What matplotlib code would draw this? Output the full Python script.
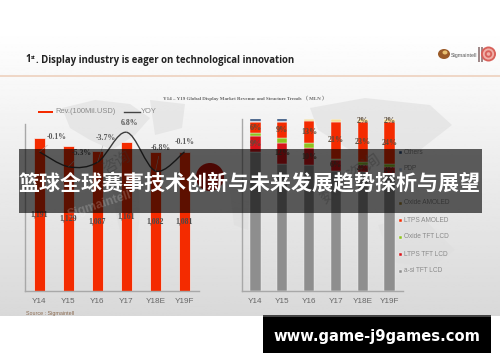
import numpy as np
import matplotlib
matplotlib.use('Agg')
import matplotlib.pyplot as plt
from matplotlib.path import Path
from matplotlib.patches import PathPatch, Polygon, Circle, Rectangle, Ellipse

years = ['Y14', 'Y15', 'Y16', 'Y17', 'Y18E', 'Y19F']

# left chart
revenue = [1191, 1129, 1087, 1161, 1082, 1081]
yoy = [-0.1, -5.3, -3.7, 6.8, -6.8, -0.1]

# right chart, share of revenue in percent
a_si_tft = [81, 74, 73, 70, 69, 68]
ltps_tft = [9, 12, 10, 6, 4, 4]
oxide_tft = [2, 3, 3, 1, 2, 2]
ltps_amoled = [6, 9, 13, 21, 23, 24]
oxide_amoled = [0, 0, 1, 2, 2, 2]
pdp = [1, 1, 0, 0, 0, 0]
others = [1, 1, 0, 0, 0, 0]

W, H = 500, 362
plt.rcParams['font.family'] = ['Liberation Sans', 'DejaVu Sans']
fig = plt.figure(figsize=(W / 100, H / 100), dpi=100, facecolor='white')


def px_axes(x0, y0, x1, y1, z):
    # axes from pixel box, y counted from the top
    ax = fig.add_axes([x0 / W, 1 - y1 / H, (x1 - x0) / W, (y1 - y0) / H], zorder=z)
    ax.patch.set_alpha(0)
    return ax


# background layer
bg = px_axes(0, 0, W, H, 0)
bg.set_xlim(0, W)
bg.set_ylim(H, 0)
bg.axis('off')
grad = np.linspace(1.0, 0.85, 256).reshape(-1, 1)
bg.imshow(grad, cmap='gray', vmin=0, vmax=1, extent=[0, W, 316.5, 30], aspect='auto')
bg.set_xlim(0, W)
bg.set_ylim(H, 0)

# rough world map behind the charts
blobs = [
    [(62, 108), (95, 100), (130, 104), (150, 118), (135, 135), (112, 150), (90, 140), (70, 128)],
    [(112, 170), (138, 172), (140, 215), (134, 265), (122, 240), (114, 205)],
    [(150, 100), (185, 104), (182, 128), (155, 135)],
    [(310, 108), (365, 98), (430, 105), (452, 125), (420, 150), (350, 150), (318, 130)],
    [(378, 225), (420, 215), (455, 250), (430, 268), (392, 262)],
    [(228, 175), (250, 180), (248, 230), (234, 225)],
]
for b in blobs:
    bg.add_patch(Polygon(b, closed=True, fc='#dedede', alpha=0.6, ec='none'))
bg.add_patch(Circle((210, 177), 14, fc='#c8140a', ec='none'))
bg.plot([0, W], [76, 76], color='#edcdb9', lw=1.1)

# page heading
title_font = dict(family='Open Sans', weight='bold', color='#222222', va='center')
bg.text(25, 60, '1', fontsize=6.95, **title_font)
bg.text(30.6, 57.5, 'st', fontsize=3.6, **title_font)
bg.text(35.5, 60, '. Display industry is eager on technological innovation', fontsize=6.95, **title_font)
bg.text(245, 98.5, 'Y14 – Y19 Global Display Market Revenue and Structure Trends （ MLN ）',
        fontsize=3.65, family=['Liberation Serif', 'Noto Sans CJK SC'], weight='bold', color='#666666',
        ha='center', va='center')

# logo
bg.add_patch(Ellipse((444, 54), 12, 10, fc='#9a5a28', ec='none'))
bg.add_patch(Ellipse((445, 52.5), 5, 4, fc='#e8c070', ec='none'))
bg.text(451, 55, 'Sigmaintell', fontsize=3.9, color='#555555', va='center')
bg.add_patch(Rectangle((477.5, 47), 2, 15, fc='#a08a8a', ec='none'))
bg.add_patch(Rectangle((480.5, 47), 2, 15, fc='#a08a8a', ec='none'))
for r, c in zip([7.5, 5.6, 3.7, 1.8], ['#d8605a', '#f0b0a8', '#d8605a', '#f0b0a8']):
    bg.add_patch(Circle((488.5, 54), r, fc=c, ec='none'))

# source line and legends
bg.text(26, 313, 'Source : Sigmaintell', fontsize=3.9, color='#8a6a50', va='center')
bg.add_patch(Rectangle((38, 110.5), 15, 2.5, fc='#f42b00', ec='none'))
bg.text(55.5, 111.5, 'Rev.(100Mil.USD)', fontsize=5.4, color='#8a8a8a', va='center')
bg.plot([124, 140], [111.5, 111.5], color='#444444', lw=1)
bg.text(141, 111.5, 'YOY', fontsize=5.4, color='#8a8a8a', va='center')

# left chart
ax = px_axes(25, 124, 199, 291, 2)
x = np.arange(len(years))
ax.bar(x, revenue, width=0.39, color='#f42b00', edgecolor='#f2f2f2', linewidth=0.5)
ax.set_xlim(-0.5, 5.5)
ax.set_ylim(0, 1300)
ax.set_yticks([])
ax.set_xticks(x, years)
ax.tick_params(axis='x', length=0, pad=5, labelsize=5.9, labelcolor='#666666')
for s in ['top', 'right']:
    ax.spines[s].set_visible(False)
for s in ['left', 'bottom']:
    ax.spines[s].set_color('#a8a8a8')
    ax.spines[s].set_linewidth(1)
for i, v in enumerate(revenue):
    ax.text(i, v / 2, f'{v:,}', fontsize=5.6, family='Liberation Serif', weight='bold',
            color='#4a4a4a', ha='center', va='center')

# YOY curve, smoothed through the yearly values
ax2 = ax.twinx()
ax2.patch.set_alpha(0)
ax2.set_ylim(-48.9, 9.7)
ax2.axis('off')
pts = np.column_stack([x, yoy])
verts = [pts[0]]
codes = [Path.MOVETO]
for i in range(len(pts) - 1):
    p0 = pts[max(i - 1, 0)]
    p1 = pts[i]
    p2 = pts[i + 1]
    p3 = pts[min(i + 2, len(pts) - 1)]
    verts += [p1 + (p2 - p0) / 6, p2 - (p3 - p1) / 6, p2]
    codes += [Path.CURVE4] * 3
ax2.add_patch(PathPatch(Path(verts, codes), fc='none', ec='#3c3c3c', lw=1))

# offsets of the YOY labels from their points, in pixels
yoy_off = [(17, 14.5), (13, 13.5), (8, 24.5), (3.5, 9.5), (5, 23), (0, 10)]
for i, v in enumerate(yoy):
    dx, dy = yoy_off[i]
    ax2.annotate(f'{v}%', (i, v), xytext=(dx * 0.72, dy * 0.72), textcoords='offset points',
                 fontsize=5.6, family='Liberation Serif', weight='bold', color='#5a5a5a',
                 ha='center', va='center',
                 arrowprops=dict(arrowstyle='-', color='#b0b0b0', lw=0.4, shrinkA=1, shrinkB=0))

# right chart
ax3 = px_axes(242, 119, 403, 291, 2)
series = [a_si_tft, ltps_tft, oxide_tft, ltps_amoled, oxide_amoled, pdp, others]
colors = ['#8e8e8e', '#d8141a', '#8fc31f', '#f42b00', '#f6dc90', '#a8bcd8', '#2a4a78']
bottom = np.zeros(len(years))
for vals, c in zip(series, colors):
    ax3.bar(x, vals, bottom=bottom, width=0.39, color=c, edgecolor='#f4f4f4', linewidth=0.3)
    bottom += np.array(vals)
ax3.set_xlim(-0.5, 5.5)
ax3.set_ylim(0, 100)
ax3.set_yticks([])
ax3.set_xticks(x, years)
ax3.tick_params(axis='x', length=0, pad=5, labelsize=5.9, labelcolor='#666666')
for s in ['top', 'right']:
    ax3.spines[s].set_visible(False)
for s in ['left', 'bottom']:
    ax3.spines[s].set_color('#a8a8a8')
    ax3.spines[s].set_linewidth(1)

# share labels sit in the middle of their segment
base = np.array(a_si_tft)
label_font = dict(fontsize=5.8, family='Liberation Serif', weight='bold', color='#5a4a3a',
                  ha='center', va='center')
for i in range(len(years)):
    ax3.text(i, base[i] + ltps_tft[i] / 2, f'{ltps_tft[i]}%', **label_font)
    lo = base[i] + ltps_tft[i] + oxide_tft[i]
    ax3.text(i, lo + ltps_amoled[i] / 2, f'{ltps_amoled[i]}%', **label_font)
    if i >= 4:
        ax3.text(i, lo + ltps_amoled[i] + oxide_amoled[i] / 2, f'{oxide_amoled[i]}%', **label_font)

# right legend, the row behind the banner is not readable and stays out
legend_names = ['Others', 'PDP', 'Oxide AMOLED', 'LTPS AMOLED', 'Oxide TFT LCD', 'LTPS TFT LCD', 'a-si TFT LCD']
legend_cols = ['#2a4a78', '#a8bcd8', '#a08030', '#f42b00', '#8fc31f', '#d8141a', '#8e8e8e']
legend_rows = [152, 169, 203, 220, 237, 254, 271]
for name, c, yy in zip(legend_names, legend_cols, legend_rows):
    bg.add_patch(Rectangle((398.5, yy - 1.5), 3, 3, fc=c, ec='#f4f4f4', lw=0.3, zorder=5))
    bg.text(403.5, yy, name, fontsize=4.7, color='#8a8a8a', va='center')

# overlay with watermarks, banner and site address
top = px_axes(0, 0, W, H, 5)
top.set_xlim(0, W)
top.set_ylim(H, 0)
top.axis('off')
top.text(100, 205, 'Sigmaintell', fontsize=9, weight='bold', color='white', alpha=0.2,
         rotation=18, ha='center', va='center')
wm_font = dict(family=['Noto Sans CJK SC', 'DejaVu Sans'], color='#333333', alpha=0.4,
               ha='center', va='center')
top.text(117, 163, '咨询', fontsize=11, rotation=30, **wm_font)
top.text(350, 178, '数据咨询', fontsize=13, rotation=37, **wm_font)
top.add_patch(Rectangle((19, 149), 463, 64, fc='black', alpha=0.62, ec='none'))
top.text(250, 184, '篮球全球赛事技术创新与未来发展趋势探析与展望', fontsize=15.1, color='white',
         family=['Noto Sans CJK SC', 'DejaVu Sans'], weight='bold', ha='center', va='center')
top.add_patch(Rectangle((263, 315), 228, 38, fc='black', ec='none'))
top.add_patch(Rectangle((263, 315), 228, 2, fc='#444444', ec='none'))
top.text(377, 336, 'www.game-j9games.com', fontsize=10.6, color='white',
         family='DejaVu Sans', weight='bold', ha='center', va='center')

fig.savefig('out.png', dpi=100)
